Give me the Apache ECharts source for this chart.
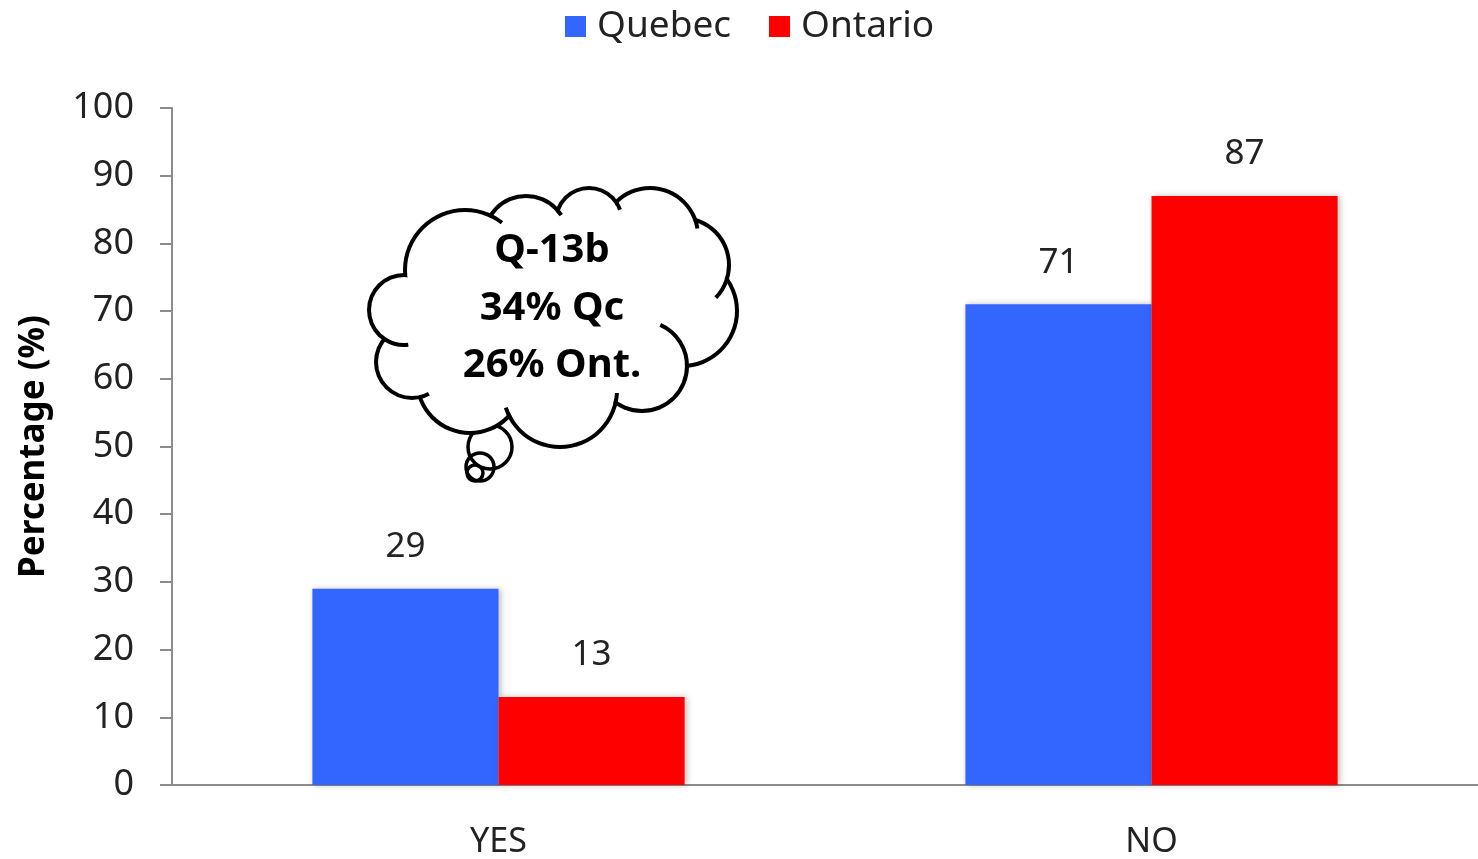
<!DOCTYPE html>
<html>
<head>
<meta charset="utf-8">
<script src="https://cdn.jsdelivr.net/npm/echarts@6/dist/echarts.min.js"></script>
<style>
  html, body { margin: 0; padding: 0; background: #fff; }
  #chart { width: 1478px; height: 859px; }
</style>
</head>
<body>
<div id="chart"></div>
<script>
// 数据
const categories = ['YES', 'NO']
const quebec = [29, 71]
const ontario = [13, 87]
const yTicks = [0, 100, 10] // min, max, interval
const noteLines = ['Q-13b', '34% Qc', '26% Ont.']

const myChart = echarts.init(document.getElementById('chart'))

// 云朵（注释框）: [cx, cy, r]
const lobes = [
  [465, 270, 60], // 0 A
  [526, 238, 42], // 1 B
  [589, 221, 33], // 2 C
  [650, 236, 48], // 3 D
  [682, 265, 47], // 4 E
  [682, 311, 55], // 5 F
  [642, 366, 45], // 6 G
  [560, 390, 57], // 7 H
  [470, 380, 53], // 8 I
  [412, 362, 36], // 9 J
  [404, 310, 35] // 10 K
]
// 内钩: [lobe index, 起始角, 结束角] (度)
const hooks = [
  [0, -64, -52],
  [1, -41, -33],
  [2, -33, -20],
  [3, -19, -9],
  [4, 19, 44],
  [6, -66, 2],
  [7, 3, 14],
  [7, 150, 162],
  [9, 62, 78],
  [10, 83, 122]
]
const bubbles = [
  [490, 447, 22],
  [480, 467, 14],
  [475, 473, 8]
]

const rad = d => (d * Math.PI) / 180

const cloudGraphic = [
  // 小气泡
  ...bubbles.map(([cx, cy, r], i) => ({
    type: 'circle',
    shape: { cx, cy, r },
    style: { fill: i === 0 ? '#fff' : null, stroke: '#000', lineWidth: 3.5 },
    z: 100
  })),
  // 外轮廓（黑）
  ...lobes.map(([cx, cy, r]) => ({
    type: 'circle',
    shape: { cx, cy, r: r + 2 },
    style: { fill: '#000' },
    z: 101
  })),
  // 内部（白）
  ...lobes.map(([cx, cy, r]) => ({
    type: 'circle',
    shape: { cx, cy, r: r - 2 },
    style: { fill: '#fff' },
    z: 102
  })),
  {
    type: 'polygon',
    shape: { points: lobes.map(([cx, cy]) => [cx, cy]) },
    style: { fill: '#fff' },
    z: 102
  },
  // 内钩
  ...hooks.map(([i, a1, a2]) => ({
    type: 'arc',
    shape: {
      cx: lobes[i][0],
      cy: lobes[i][1],
      r: lobes[i][2],
      startAngle: rad(a1),
      endAngle: rad(a2),
      clockwise: true
    },
    style: { fill: null, stroke: '#000', lineWidth: 4 },
    z: 103
  })),
  // 文字
  ...noteLines.map((t, i) => ({
    type: 'text',
    x: 552,
    y: 251 + i * 57.5,
    style: {
      text: t,
      fill: '#000',
      font: 'bold 40px "Noto Sans"',
      align: 'center',
      verticalAlign: 'middle'
    },
    z: 104
  }))
]

const option = {
  animation: false,
  backgroundColor: '#fff',
  textStyle: { fontFamily: 'Noto Sans' },
  legend: {
    top: 3,
    left: 560,
    itemWidth: 21,
    itemHeight: 21,
    itemGap: 38,
    icon: 'rect',
    textStyle: { fontSize: 37, color: '#222', padding: [0, 0, 0, 6] },
    data: ['Quebec', 'Ontario']
  },
  grid: {
    left: 172,
    top: 108,
    bottom: 72,
    width: 1312
  },
  xAxis: {
    type: 'category',
    data: categories,
    axisLine: { lineStyle: { color: '#8c8c8c', width: 2 } },
    axisTick: { length: 13, lineStyle: { color: '#8c8c8c', width: 2 } },
    axisLabel: { fontSize: 34, color: '#222', margin: 40 }
  },
  yAxis: {
    type: 'value',
    min: yTicks[0],
    max: yTicks[1],
    interval: yTicks[2],
    name: 'Percentage (%)',
    nameLocation: 'middle',
    nameGap: 120,
    nameRotate: 90,
    nameTextStyle: { fontSize: 35, fontWeight: 'bold', color: '#000' },
    axisLine: { show: true, lineStyle: { color: '#8c8c8c', width: 2 } },
    axisTick: { show: true, length: 12, lineStyle: { color: '#8c8c8c', width: 2 } },
    splitLine: { show: false },
    axisLabel: { fontSize: 36, color: '#222', margin: 38 }
  },
  series: [
    {
      name: 'Quebec',
      type: 'bar',
      data: quebec,
      barGap: '0%',
      barCategoryGap: '43%',
      itemStyle: {
        color: '#3366ff',
        shadowColor: 'rgba(0,0,0,0.25)',
        shadowBlur: 6,
        shadowOffsetX: 2
      },
      label: { show: true, position: 'top', distance: 24, fontSize: 35, color: '#222' }
    },
    {
      name: 'Ontario',
      type: 'bar',
      data: ontario,
      itemStyle: {
        color: '#ff0000',
        shadowColor: 'rgba(0,0,0,0.25)',
        shadowBlur: 6,
        shadowOffsetX: 2
      },
      label: { show: true, position: 'top', distance: 24, fontSize: 35, color: '#222' }
    }
  ],
  graphic: cloudGraphic
}

myChart.setOption(option)
</script>
</body>
</html>
